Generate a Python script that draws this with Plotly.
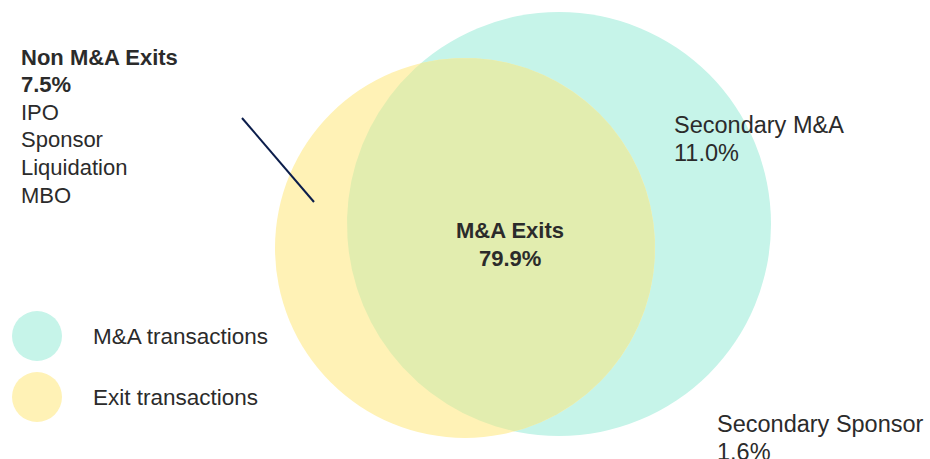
import numpy as np
import plotly.graph_objects as go

# ---- data ----
region_labels = ["Non M&A Exits", "M&A Exits", "Secondary M&A", "Secondary Sponsor"]
region_values = [7.5, 79.9, 11.0, 1.6]
non_mna_types = ["IPO", "Sponsor", "Liquidation", "MBO"]
legend_labels = ["M&A transactions", "Exit transactions"]

# ---- style / layout ----
W, H = 930, 459
TEAL = "#C6F4E9"
YELLOW = "#FFF2B6"
OVERLAP = "#E2EDAF"
TEXT = "#2B2B2B"
FONT = "Liberation Sans, Arial, sans-serif"

mna_circle = (559, 224, 212)   # cx, cy, r
exit_circle = (465, 248, 190)

fig = go.Figure()

def circ_shape(c, color):
    cx, cy, r = c
    return dict(type="circle", xref="x", yref="y", x0=cx - r, x1=cx + r,
                y0=cy - r, y1=cy + r, fillcolor=color, line=dict(width=0), layer="below")

shapes = [circ_shape(mna_circle, TEAL), circ_shape(exit_circle, YELLOW)]

# lens (intersection) polygon
t = np.linspace(0, 2 * np.pi, 1440, endpoint=False)
pts = []
for (c, o) in [(mna_circle, exit_circle), (exit_circle, mna_circle)]:
    px = c[0] + c[2] * np.cos(t)
    py = c[1] + c[2] * np.sin(t)
    inside = (px - o[0]) ** 2 + (py - o[1]) ** 2 <= o[2] ** 2
    pts.append(np.column_stack([px[inside], py[inside]]))
pts = np.vstack(pts)
ctr = pts.mean(axis=0)
order = np.argsort(np.arctan2(pts[:, 1] - ctr[1], pts[:, 0] - ctr[0]))
pts = pts[order]
fig.add_trace(go.Scatter(x=list(pts[:, 0]) + [pts[0, 0]], y=list(pts[:, 1]) + [pts[0, 1]],
                         fill="toself", fillcolor=OVERLAP, mode="lines", line=dict(width=0),
                         hoverinfo="skip", showlegend=False))

# leader line
shapes.append(dict(type="line", xref="x", yref="y", x0=242, y0=118, x1=314, y1=202,
                   line=dict(color="#0B1D4B", width=2)))

# legend circles
leg_colors = [TEAL, YELLOW]
leg_y = [336, 397]
for col, ly in zip(leg_colors, leg_y):
    shapes.append(dict(type="circle", xref="x", yref="y", x0=12, x1=62, y0=ly - 25, y1=ly + 25,
                       fillcolor=col, line=dict(width=0), layer="below"))

ann = []
def txt(x, y, s, bold=False, size=22, xanchor="left"):
    ann.append(dict(x=x, y=y, xref="x", yref="y", text=(f"<b>{s}</b>" if bold else s),
                    showarrow=False, xanchor=xanchor, yanchor="middle",
                    font=dict(family=FONT, size=size, color=TEXT)))

def pct(v):
    return f"{v:.1f}%"

# Non M&A Exits block
sp = 27.6
y0 = 57
txt(19, y0, region_labels[0], bold=True)
txt(19, y0 + sp, pct(region_values[0]), bold=True)
for i, s in enumerate(non_mna_types):
    txt(19, y0 + sp * (i + 2), s)

# M&A Exits
txt(510, 230, region_labels[1], bold=True, xanchor="center")
txt(510, 258, pct(region_values[1]), bold=True, xanchor="center")

# Secondary M&A
txt(672, 125, region_labels[2], size=23.5)
txt(672, 153, pct(region_values[2]), size=23.5)

# Secondary Sponsor
txt(715, 424, region_labels[3], size=23.5)
txt(715, 452, pct(region_values[3]), size=23.5)

# legend labels
for lab, ly in zip(legend_labels, leg_y):
    txt(91, ly, lab, size=22.5)

fig.update_layout(
    width=W, height=H, margin=dict(l=0, r=0, t=0, b=0),
    paper_bgcolor="white", plot_bgcolor="white",
    xaxis=dict(range=[0, W], visible=False, fixedrange=True),
    yaxis=dict(range=[H, 0], visible=False, fixedrange=True),
    shapes=shapes, annotations=ann, showlegend=False,
)
fig.write_html("out.html", config={"displayModeBar": False},
               post_script="document.body.style.margin='0';document.body.style.overflow='hidden';")
